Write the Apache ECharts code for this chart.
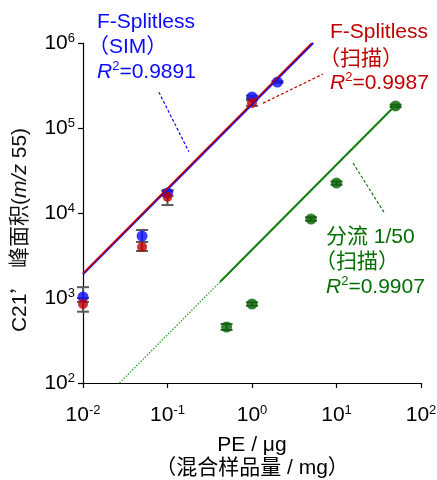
<!DOCTYPE html>
<html><head><meta charset="utf-8">
<script src="https://cdn.jsdelivr.net/npm/echarts@6/dist/echarts.min.js"></script>
<style>html,body{margin:0;padding:0;background:#fff}#c{width:437px;height:480px}</style>
</head><body><div id="c"></div>
<script>
// ---- data ----
const simX = [0.01, 0.05, 0.1, 1, 2];
const simY = [1030, 5360, 17200, 232000, 347000];
const simLo = [900, 4560, 16000, 222000, 340000];
const simHi = [1340, 6310, 18600, 240000, 356000];

const scanX = [0.01, 0.05, 0.1, 1];
const scanY = [850, 3980, 15500, 197000];
const scanLo = [690, 3570, 12400, 182000];
const scanHi = [1000, 4560, 18000, 212000];

const splitX = [0.5, 1, 5, 10, 50];
const splitY = [456, 850, 8500, 22500, 182000];
const splitLo = [420, 810, 8100, 21500, 176000];
const splitHi = [495, 890, 8900, 23500, 188000];

const fitSIM = [[0.01, 1900], [5.3, 1000000]];
const fitScan = [[0.01, 1950], [5.1, 1000000]];
const fitSplitSolid = [[0.42, 1550], [50, 185000]];
const fitSplitDotted = [[0.027, 100], [0.42, 1550]];

const leadSIM = [[0.079, 264000], [0.179, 52500]];
const leadScan = [[1.35, 196000], [6.9, 431000]];
const leadSplit = [[15.7, 38700], [37.5, 9750]];

const noteSIM = ['F-Splitless', '（SIM）', '0.9891'];
const noteScan = ['F-Splitless', '（扫描）', '0.9987'];
const noteSplit = ['分流 1/50', '（扫描）', '0.9907'];

// ---- styling ----
const FF = '"Liberation Sans", Arial, "Noto Sans CJK SC", sans-serif';
const CJK = '"Noto Sans CJK SC", sans-serif';
const FS = 21;
const BLUE = '#0a0aff', RED = '#c00000', GREEN = '#007000', GREENLINE = '#0a800a';
const ERR = '#5a5a5a';

function pairs(xs, ys) { return xs.map((x, i) => [x, ys[i]]); }
function errs(xs, lo, hi) { return xs.map((x, i) => [x, lo[i], hi[i]]); }

function errSeries(data, capW) {
  return {
    type: 'custom', z: 2, data: data,
    encode: { x: 0, y: [1, 2] },
    renderItem: function (params, api) {
      const x = api.value(0);
      const a = api.coord([x, api.value(1)]);
      const b = api.coord([x, api.value(2)]);
      const st = { stroke: ERR, lineWidth: 2 };
      return { type: 'group', children: [
        { type: 'line', shape: { x1: a[0], y1: a[1], x2: b[0], y2: b[1] }, style: st },
        { type: 'line', shape: { x1: a[0] - capW, y1: a[1], x2: a[0] + capW, y2: a[1] }, style: st },
        { type: 'line', shape: { x1: b[0] - capW, y1: b[1], x2: b[0] + capW, y2: b[1] }, style: st }
      ]};
    }
  };
}

const supRich = {
  b: { fontSize: FS, fontFamily: FF, color: '#000', lineHeight: 22 },
  s: { fontSize: 13, fontFamily: FF, color: '#000', verticalAlign: 'top', lineHeight: 22, padding: [0, 0, 8, 0] }
};
function expLabel(v) {
  const e = Math.round(Math.log10(v));
  return '{b|10}{s|' + e + '}';
}

function noteLines(lines, col, left, ys, parenShift) {
  const rich = {
    n: { fontSize: FS, fontFamily: FF, fill: col, lineHeight: 25 },
    i: { fontSize: FS, fontFamily: FF, fontStyle: 'italic', fill: col, lineHeight: 25 },
    s: { fontSize: 13, fontFamily: FF, fill: col, lineHeight: 25, verticalAlign: 'top', padding: [0, 0, 10, 0] }
  };
  const mk = (txt, x, y) => ({ type: 'text', x: x, y: y, z: 10,
    style: { text: txt, rich: rich, align: 'left', verticalAlign: 'middle' } });
  return [
    mk('{n|' + lines[0] + '}', left, ys[0]),
    mk('{n|' + lines[1] + '}', left - parenShift, ys[1]),
    mk('{i|R}{s|2}{n|=' + lines[2] + '}', left, ys[2])
  ];
}

const chart = echarts.init(document.getElementById('c'), null, { renderer: 'canvas' });
chart.setOption({
  animation: false,
  backgroundColor: '#fff',
  grid: { left: 83, right: 16, top: 43, bottom: 97, containLabel: false, outerBoundsMode: 'none' },
  xAxis: {
    type: 'log', logBase: 10, min: 0.01, max: 100,
    axisLine: { show: true, lineStyle: { color: '#000', width: 1.2 } },
    axisTick: { show: true, length: 5, lineStyle: { color: '#000', width: 1.2 } },
    splitLine: { show: false },
    axisLabel: { formatter: expLabel, rich: supRich, margin: 21 },
    name: 'PE / μg\n（混合样品量 / mg）',
    nameLocation: 'middle', nameGap: 51,
    nameTextStyle: { fontSize: FS, fontFamily: FF, color: '#000', lineHeight: 23 }
  },
  yAxis: {
    type: 'log', logBase: 10, min: 100, max: 1000000,
    axisLine: { show: true, lineStyle: { color: '#000', width: 1.2 } },
    axisTick: { show: true, length: 5, lineStyle: { color: '#000', width: 1.2 } },
    splitLine: { show: false },
    axisLabel: { formatter: expLabel, rich: supRich, margin: 8 }
  },
  series: [
    errSeries(errs(simX, simLo, simHi), 6),
    errSeries(errs(scanX, scanLo, scanHi), 6),
    errSeries(errs(splitX, splitLo, splitHi), 6),
    { type: 'scatter', z: 3, symbol: 'circle', symbolSize: 11, itemStyle: { color: BLUE }, data: pairs(simX, simY) },
    { type: 'scatter', z: 4, symbol: 'circle', symbolSize: 10, itemStyle: { color: RED }, data: pairs(scanX, scanY) },
    { type: 'scatter', z: 3, symbol: 'circle', symbolSize: 11, itemStyle: { color: '#006400' }, data: pairs(splitX, splitY) },
    { type: 'line', z: 5, showSymbol: false, symbol: 'none', data: fitSIM, lineStyle: { color: BLUE, width: 2 } },
    { type: 'line', z: 6, showSymbol: false, symbol: 'none', data: fitScan, lineStyle: { color: RED, width: 1.6 } },
    { type: 'line', z: 5, showSymbol: false, symbol: 'none', data: fitSplitSolid, lineStyle: { color: GREENLINE, width: 2 } },
    { type: 'line', z: 5, showSymbol: false, symbol: 'none', data: fitSplitDotted, lineStyle: { color: '#22a022', width: 1.2, type: [1.5, 1.5] } },
    { type: 'line', z: 5, showSymbol: false, symbol: 'none', data: leadSIM, lineStyle: { color: BLUE, width: 1.2, type: [3, 2] } },
    { type: 'line', z: 5, showSymbol: false, symbol: 'none', data: leadScan, lineStyle: { color: RED, width: 1.2, type: [3, 2] } },
    { type: 'line', z: 5, showSymbol: false, symbol: 'none', data: leadSplit, lineStyle: { color: GREENLINE, width: 1.2, type: [3, 2] } }
  ],
  graphic: [].concat(
    noteLines(noteSIM, BLUE, 97, [22, 47.5, 72.5], 9),
    noteLines(noteScan, RED, 330, [32, 59, 83], 11),
    noteLines(noteSplit, GREEN, 326, [237, 262, 287.5], 11),
    [{ type: 'text', x: 20, y: 230, rotation: Math.PI / 2, z: 10,
      style: { text: '{n|C21}{q|’ }{n|峰面积(}{i|m/z}{n| 55)}', align: 'center', verticalAlign: 'middle',
        rich: {
          n: { fontSize: FS, fontFamily: FF, fill: '#111' },
          q: { fontSize: FS, fontFamily: CJK, fill: '#111' },
          i: { fontSize: FS, fontFamily: FF, fontStyle: 'italic', fill: '#111' }
        } } }]
  )
});
</script></body></html>
